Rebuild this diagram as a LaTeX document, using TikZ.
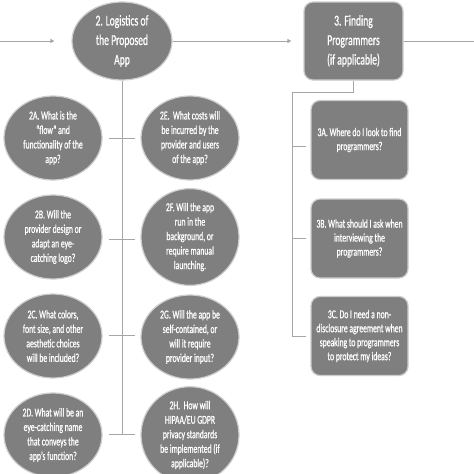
\documentclass[tikz,border=0pt]{standalone}
\usepackage{fontspec}
\newfontfamily\boxfont[FakeStretch=0.64,FakeBold=0.8]{Carlito}
\usetikzlibrary{shapes.geometric,arrows.meta,calc}
\definecolor{boxgray}{HTML}{7F7F7F}
\definecolor{edgegray}{HTML}{CDCDCD}
\definecolor{linegray}{HTML}{A6A6A6}
\begin{document}
\begin{tikzpicture}[x=1pt,y=-1pt,
  oval/.style={ellipse,fill=boxgray,draw=edgegray,line width=1.2pt,inner sep=0pt,
    minimum width=98pt,minimum height=84pt,text=white,align=center,
    font=\boxfont\fontsize{12}{14.5}\selectfont},
  bigoval/.style={oval,minimum width=100pt,minimum height=78pt,
    font=\boxfont\fontsize{15}{19.5}\selectfont},
  rbox/.style={rectangle,rounded corners=9pt,fill=boxgray,draw=edgegray,line width=1.2pt,
    inner sep=0pt,minimum width=97pt,minimum height=79pt,text=white,align=center,
    font=\boxfont\fontsize{12}{14}\selectfont},
  bigbox/.style={rbox,minimum width=99pt,minimum height=78pt,
    font=\boxfont\fontsize{15}{19.5}\selectfont},
  ln/.style={draw=linegray,line width=0.9pt},
  arr/.style={ln,-{Triangle[length=4pt,width=4pt]}}]
\fill[white] (0,0) rectangle (474,474);
\useasboundingbox (0,0) rectangle (474,474);

\node[bigoval] (n2) at (122,41) {2. Logistics of\\the Proposed\\App};
\node[bigbox] (n3) at (353.5,41) {3. Finding\\Programmers\\(if applicable)};

\node[oval] (n2A) at (53,138) {2A. What is the\\“flow” and\\functionality of the\\app?};
\node[oval] (n2B) at (53,237) {2B. Will the\\provider design or\\adapt an eye-\\catching logo?};
\node[oval] (n2C) at (53,336) {2C. What colors,\\font size, and other\\aesthetic choices\\will be included?};
\node[oval] (n2D) at (53,435) {2D. What will be an\\eye-catching name\\that conveys the\\app’s function?};

\node[oval] (n2E) at (190,138) {2E.\ \ What costs will\\be incurred by the\\provider and users\\of the app?};
\node[oval] (n2F) at (190,237) {2F. Will the app\\run in the\\background, or\\require manual\\launching.};
\node[oval] (n2G) at (190,337) {2G. Will the app be\\self-contained, or\\will it require\\provider input?};
\node[oval] (n2H) at (190,435) {2H.\ \ How will\\HIPAA/EU GDPR\\privacy standards\\be implemented (if\\applicable)?};

\node[rbox] (n3A) at (359.5,140) {3A. Where do I look to find\\programmers?};
\node[rbox] (n3B) at (359.5,238.5) {3B. What should I ask when\\interviewing the\\programmers?};
\node[rbox] (n3C) at (359.5,336) {3C. Do I need a non-\\disclosure agreement when\\speaking to programmers\\to protect my ideas?};

% top flow
\coordinate (inL) at (0,41);
\coordinate (outR) at (474,41);
\draw[arr,shorten >=17pt] (inL) -- (n2.west);
\draw[arr,shorten >=12pt] (n2.east) -- (n3.west);
\draw[ln] (n3.east) -- (outR);

% trunk of 2
\coordinate (trunkend) at (122,434);
\draw[ln] (n2.south) -- (trunkend);
\draw[ln,shorten <=6pt,shorten >=5pt] (n2A) -- (n2E);
\draw[ln,shorten <=6pt,shorten >=5pt] ($(n2B.east)+(0,2)$) -- ($(n2F.west)+(0,2)$);
\draw[ln,shorten <=6pt,shorten >=5pt] ($(n2C.east)+(0,-1)$) -- ($(n2G.west)+(0,-2)$);
\draw[ln,shorten <=6pt,shorten >=5pt] ($(n2D.east)+(0,-1)$) -- ($(n2H.west)+(0,-1)$);

% bus of 3
\coordinate (bus) at (292,92);
\draw[ln] (n3.south) |- (bus) -- (bus |- n3C.west);
\draw[ln,shorten >=4pt] ($(bus |- n3A.west)+(0,6)$) -- ($(n3A.west)+(0,6)$);
\draw[ln,shorten >=4pt] (bus |- n3B.west) -- (n3B.west);
\draw[ln,shorten >=4pt] (bus |- n3C.west) -- (n3C.west);
\end{tikzpicture}
\end{document}
